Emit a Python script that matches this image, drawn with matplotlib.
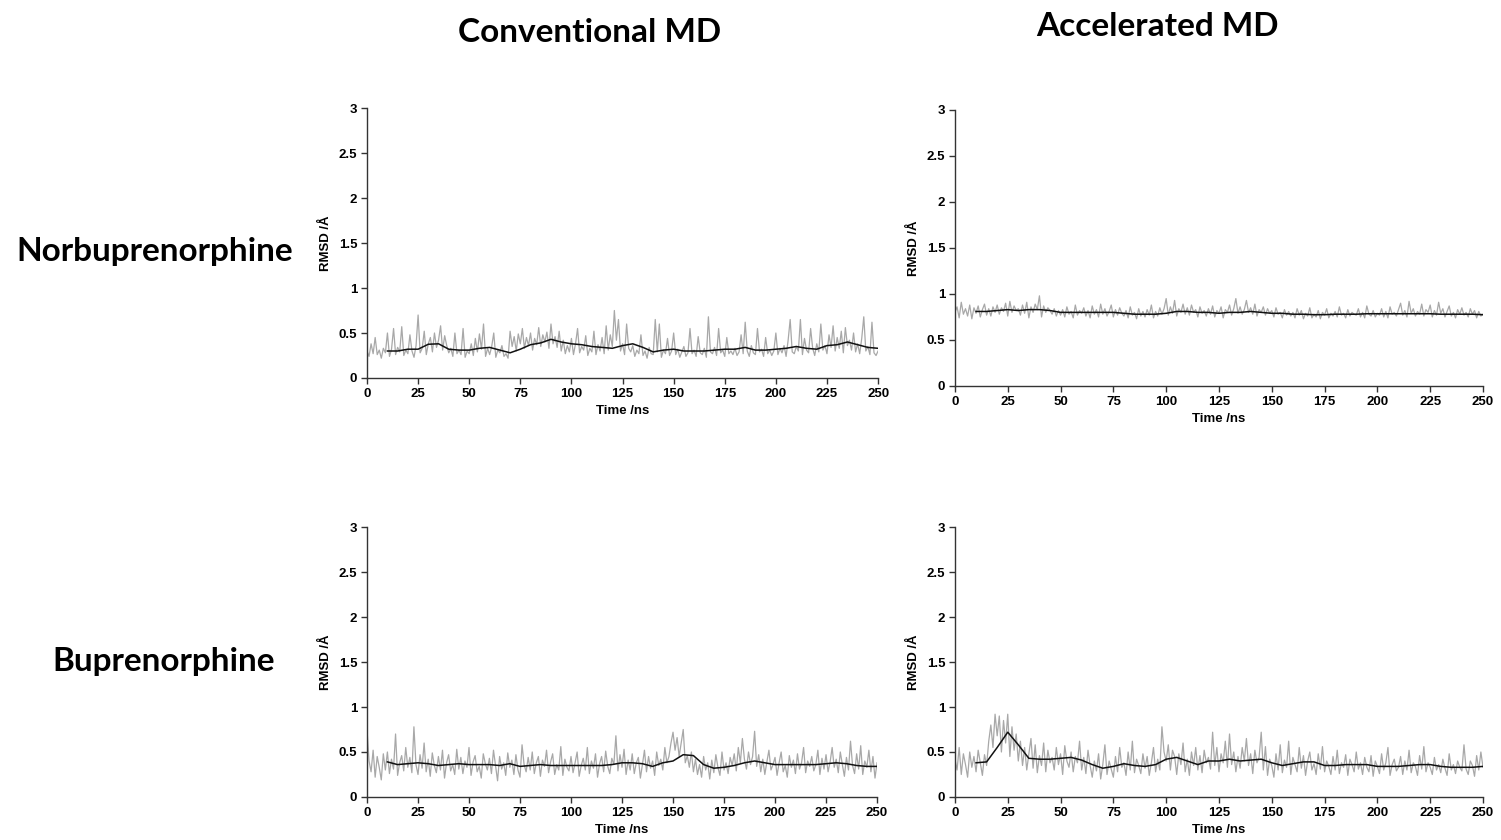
import numpy as np
import matplotlib
matplotlib.use("Agg")
import matplotlib.pyplot as plt
from matplotlib.font_manager import FontProperties

# RMSD traces, hundredths of an angstrom, one value per ns (0..250 ns)
cmd_nor = [30, 24, 38, 27, 45, 26, 31, 22, 33, 28,
           50, 24, 32, 55, 26, 34, 29, 57, 25, 31,
           27, 48, 30, 23, 36, 70, 28, 33, 52, 26,
           38, 45, 29, 50, 34, 42, 58, 31, 47, 36,
           28, 33, 24, 50, 27, 31, 26, 55, 23, 30,
           27, 38, 25, 44, 29, 49, 32, 60, 24, 33,
           26, 35, 50, 23, 31, 28, 36, 24, 27, 22,
           52, 35, 46, 30, 49, 38, 55, 33, 45, 36,
           50, 31, 44, 37, 56, 35, 48, 40, 51, 33,
           60, 38, 46, 34, 52, 30, 42, 27, 36, 29,
           44, 26, 38, 55, 28, 35, 31, 47, 25, 33,
           29, 52, 26, 37, 30, 45, 27, 58, 31, 48,
           35, 75, 42, 65, 30, 38, 26, 60, 33, 29,
           36, 24, 31, 27, 48, 25, 30, 22, 34, 27,
           26, 65, 29, 60, 23, 31, 27, 44, 25, 30,
           50, 26, 32, 23, 29, 35, 24, 28, 55, 27,
           31, 24, 46, 28, 26, 33, 23, 68, 29, 27,
           34, 25, 55, 28, 31, 24, 45, 27, 30, 26,
           33, 25, 29, 48, 27, 62, 30, 24, 36, 28,
           26, 55, 29, 32, 24, 45, 27, 31, 25, 30,
           50, 26, 33, 28, 36, 24, 42, 65, 29, 27,
           35, 30, 65, 26, 44, 31, 28, 55, 33, 25,
           38, 29, 60, 31, 36, 27, 48, 34, 58, 30,
           45, 33, 52, 28, 56, 36, 42, 31, 50, 29,
           38, 27, 44, 68, 30, 35, 26, 62, 28, 25,
           30]

amd_nor = [80, 86, 74, 91, 78, 84, 76, 88, 73, 85,
           79, 87, 75, 83, 89, 77, 84, 76, 86, 80,
           88, 78, 85, 81, 90, 76, 92, 80, 87, 82,
           84, 77, 88, 79, 91, 74, 86, 80, 89, 83,
           98, 75, 87, 80, 85, 82, 78, 84, 76, 82,
           77, 83, 75, 86, 78, 81, 74, 88, 77, 82,
           79, 85, 76, 82, 74, 87, 78, 83, 75, 89,
           78, 84, 76, 81, 88, 75, 83, 77, 85, 79,
           76, 82, 74, 86, 77, 80, 73, 84, 76, 81,
           75, 83, 77, 88, 74, 81, 76, 85, 78, 84,
           95, 77, 86, 79, 93, 76, 84, 80, 89, 78,
           85, 77, 88, 80, 83, 75, 86, 79, 82, 76,
           84, 78, 87, 75, 82, 79, 86, 74, 83, 80,
           88, 77, 84, 95, 79, 86, 78, 83, 93, 80,
           85, 78, 89, 76, 83, 80, 86, 77, 84, 79,
           82, 75, 85, 78, 80, 74, 83, 77, 81, 76,
           80, 74, 84, 77, 82, 73, 79, 76, 85, 74,
           78, 75, 82, 73, 80, 77, 84, 74, 79, 76,
           81, 75, 86, 77, 79, 74, 83, 76, 80, 78,
           77, 84, 75, 80, 74, 87, 78, 76, 82, 75,
           79, 77, 84, 75, 81, 74, 86, 78, 80, 76,
           83, 90, 77, 82, 75, 92, 79, 84, 76, 81,
           78, 89, 76, 83, 80, 88, 75, 82, 77, 91,
           79, 84, 75, 81, 87, 76, 80, 74, 83, 78,
           85, 77, 80, 75, 84, 78, 82, 74, 81, 76,
           78]

cmd_bup = [75, 40, 28, 52, 22, 45, 33, 19, 48, 30,
           50, 26, 42, 31, 70, 24, 38, 46, 29, 55,
           33, 44, 27, 78, 36, 25, 47, 32, 60, 28,
           42, 23, 49, 35, 27, 45, 30, 52, 21, 38,
           47, 29, 36, 25, 53, 31, 44, 26, 40, 33,
           55, 24, 39, 46, 28, 34, 21, 48, 37, 30,
           43, 26, 52, 35, 18, 45, 31, 38, 24, 49,
           33, 41, 25, 47, 30, 22, 58, 36, 28, 44,
           30, 50, 26, 38, 45, 23, 41, 34, 52, 27,
           39, 48, 25, 36, 30, 56, 24, 42, 33, 29,
           45, 27, 38, 50, 23, 35, 43, 30, 55, 26,
           40, 32, 48, 22, 37, 45, 28, 51, 34, 26,
           43, 36, 68, 29, 47, 33, 53, 25, 41, 30,
           48, 26, 38, 44, 21, 36, 52, 28, 45, 32,
           40, 24, 50, 35, 42, 30, 55, 38, 45, 60,
           72, 52, 66, 45, 60, 75, 38, 46, 33, 50,
           28, 42, 25, 36, 22, 45, 30, 38, 20, 41,
           27, 47, 33, 24, 50, 30, 38, 26, 44, 35,
           48, 29, 55, 38, 65, 42, 31, 50, 36, 45,
           73, 34, 47, 28, 42, 25, 39, 52, 30, 36,
           44, 24, 38, 50, 28, 35, 22, 46, 33, 41,
           26, 48, 31, 38, 55, 27, 40, 34, 45, 29,
           36, 52, 25, 43, 31, 47, 28, 39, 55, 33,
           42, 27, 50, 36, 23, 44, 30, 62, 35, 26,
           48, 31, 57, 25, 40, 33, 52, 28, 45, 21,
           38]

amd_bup = [42, 30, 55, 25, 48, 36, 22, 50, 33, 45,
           28, 52, 38, 24, 47, 35, 62, 80, 55, 92,
           68, 90, 50, 85, 60, 92, 45, 78, 52, 70,
           40, 62, 35, 55, 30, 48, 65, 32, 58, 27,
           46, 35, 60, 28, 52, 38, 44, 30, 55, 36,
           48, 25, 57, 40, 33, 50, 28, 45, 38, 62,
           30, 44, 26, 52, 35, 22, 40, 29, 48, 20,
           36, 58, 25, 40, 31, 22, 45, 28, 55, 33,
           38, 24, 50, 30, 62, 27, 42, 35, 26, 48,
           32, 45, 24, 38, 55, 28, 42, 30, 78, 50,
           40, 58, 30, 52, 45, 25, 48, 36, 60, 28,
           42, 24, 50, 35, 55, 30, 46, 27, 52, 38,
           44, 31, 72, 35, 55, 28, 48, 38, 62, 33,
           70, 36, 50, 28, 45, 32, 55, 40, 65, 35,
           48, 26, 52, 38, 44, 72, 30, 56, 24, 42,
           35, 22, 48, 30, 58, 27, 41, 33, 62, 25,
           44, 36, 28, 55, 32, 46, 24, 40, 50, 30,
           37, 25, 48, 31, 56, 28, 40, 34, 25, 45,
           30, 52, 26, 38, 33, 47, 24, 42, 36, 28,
           50, 31, 38, 25, 44, 33, 28, 46, 23, 40,
           34, 26, 48, 30, 38, 55, 24, 36, 42, 29,
           33, 45, 25, 40, 30, 52, 27, 38, 34, 24,
           46, 31, 56, 28, 38, 33, 25, 44, 30, 36,
           27, 42, 32, 24, 48, 30, 36, 26, 40, 33,
           29, 58, 31, 25, 40, 35, 23, 46, 30, 50,
           33]

# running average, every 5 ns from 10 to 250 ns
avg_time = list(range(10, 251, 5))
cmd_nor_avg = [0.30, 0.30, 0.32, 0.32, 0.375, 0.38, 0.32, 0.31, 0.31, 0.33,
               0.34, 0.31, 0.28, 0.32, 0.37, 0.39, 0.43, 0.40, 0.38, 0.37,
               0.35, 0.34, 0.33, 0.36, 0.38, 0.34, 0.29, 0.31, 0.32, 0.30,
               0.30, 0.30, 0.31, 0.32, 0.32, 0.34, 0.31, 0.31, 0.32, 0.33,
               0.35, 0.33, 0.32, 0.36, 0.37, 0.40, 0.37, 0.34, 0.33]
amd_nor_avg = [0.81, 0.81, 0.82, 0.83, 0.82, 0.83, 0.83, 0.82, 0.80, 0.80,
               0.80, 0.80, 0.80, 0.80, 0.79, 0.78, 0.78, 0.78, 0.79, 0.81,
               0.81, 0.80, 0.80, 0.79, 0.80, 0.80, 0.81, 0.80, 0.79, 0.79,
               0.78, 0.78, 0.775, 0.775, 0.78, 0.78, 0.78, 0.785, 0.785, 0.785,
               0.785, 0.785, 0.785, 0.785, 0.78, 0.78, 0.78, 0.78, 0.775]
cmd_bup_avg = [0.39, 0.36, 0.37, 0.38, 0.37, 0.35, 0.36, 0.37, 0.36, 0.36,
               0.36, 0.35, 0.37, 0.34, 0.35, 0.36, 0.35, 0.35, 0.35, 0.35,
               0.35, 0.35, 0.36, 0.38, 0.38, 0.37, 0.34, 0.38, 0.40, 0.47,
               0.46, 0.36, 0.32, 0.33, 0.35, 0.38, 0.40, 0.38, 0.36, 0.36,
               0.36, 0.36, 0.36, 0.37, 0.38, 0.37, 0.35, 0.34, 0.34]
amd_bup_avg = [0.38, 0.39, 0.55, 0.72, 0.58, 0.43, 0.42, 0.42, 0.43, 0.44,
               0.41, 0.36, 0.32, 0.34, 0.37, 0.35, 0.34, 0.36, 0.42, 0.44,
               0.40, 0.36, 0.40, 0.40, 0.42, 0.40, 0.41, 0.42, 0.38, 0.35,
               0.37, 0.39, 0.39, 0.35, 0.35, 0.36, 0.36, 0.36, 0.34, 0.34,
               0.34, 0.35, 0.36, 0.36, 0.34, 0.33, 0.33, 0.33, 0.34]

col_titles = ["Conventional MD", "Accelerated MD"]
row_titles = ["Norbuprenorphine", "Buprenorphine"]

panels = [
    ([0.2445, 0.550, 0.3405, 0.3214], cmd_nor, cmd_nor_avg),
    ([0.6362, 0.5405, 0.3518, 0.3286], amd_nor, amd_nor_avg),
    ([0.2445, 0.0512, 0.3398, 0.3214], cmd_bup, cmd_bup_avg),
    ([0.6362, 0.0512, 0.3518, 0.3214], amd_bup, amd_bup_avg),
]

tick_font = {"family": "Liberation Sans", "weight": "bold", "size": 9.5}
title_font = {"family": "Lato", "weight": "bold", "size": 24}

fig = plt.figure(figsize=(15.01, 8.4), dpi=100)

for rect, raw, avg in panels:
    ax = fig.add_axes(rect)
    vals = np.array(raw) / 100.0
    t = np.linspace(0, 250, len(vals))
    ax.plot(t, vals, color="#a8a8a8", linewidth=0.9)
    ax.plot(avg_time, avg, color="#111111", linewidth=1.1)

    ax.set_xlim(0, 250)
    ax.set_ylim(0, 3)
    ax.set_xticks(np.arange(0, 251, 25))
    ax.set_yticks([0, 0.5, 1, 1.5, 2, 2.5, 3])
    ax.set_yticklabels(["0", "0.5", "1", "1.5", "2", "2.5", "3"])
    for lab in ax.get_xticklabels() + ax.get_yticklabels():
        lab.set_fontproperties(FontProperties(**tick_font))
    ax.tick_params(direction="out", length=4, width=1, color="#333333", pad=3)
    for side in ["top", "right"]:
        ax.spines[side].set_visible(False)
    for side in ["left", "bottom"]:
        ax.spines[side].set_color("#333333")
        ax.spines[side].set_linewidth(1.0)
    ax.set_xlabel("Time /ns", fontdict=tick_font, labelpad=4)
    ax.set_ylabel("RMSD /Å", fontdict=tick_font, labelpad=5)

fig.text(0.393, 0.961, col_titles[0], ha="center", va="center", **title_font)
fig.text(0.771, 0.968, col_titles[1], ha="center", va="center", **title_font)
fig.text(0.103, 0.701, row_titles[0], ha="center", va="center", **title_font)
fig.text(0.109, 0.213, row_titles[1], ha="center", va="center", **title_font)

fig.savefig("out.png", dpi=100)
